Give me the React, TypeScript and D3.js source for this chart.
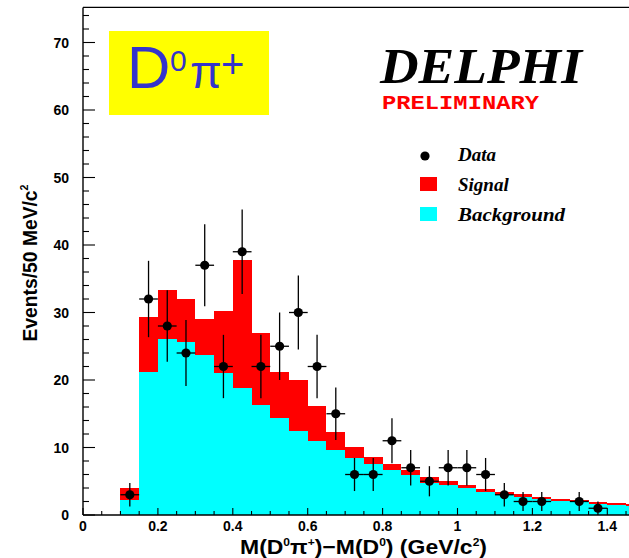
import React from "react";
import * as d3 from "d3";

// bin lower edges in GeV/c^2 (50 MeV bins)
const binStarts = [0.10, 0.15, 0.20, 0.25, 0.30, 0.35, 0.40, 0.45, 0.50, 0.55,
  0.60, 0.65, 0.70, 0.75, 0.80, 0.85, 0.90, 0.95, 1.00, 1.05,
  1.10, 1.15, 1.20, 1.25, 1.30, 1.35, 1.40, 1.45];
const background = [2.2, 21.2, 26.1, 25.7, 23.7, 21.1, 18.8, 16.3, 14.4, 12.5,
  11.0, 9.7, 8.5, 7.5, 6.6, 5.9, 4.8, 4.4, 3.95, 3.45,
  2.95, 2.7, 2.3, 2.1, 1.9, 1.7, 1.5, 1.35];
const signal = [1.8, 8.1, 7.3, 6.3, 5.4, 9.1, 19.0, 10.6, 6.8, 7.5,
  5.1, 2.6, 1.6, 1.1, 0.9, 0.7, 0.9, 0.7, 0.45, 0.45,
  0.4, 0.35, 0.4, 0.3, 0.3, 0.3, 0.3, 0.25];
const counts = [3, 32, 28, 24, 37, 22, 39, 22, 25, 30,
  22, 15, 6, 6, 11, 7, 5, 7, 7, 6,
  3, 2, 2, 0, 2, 1, 0, 0];
const binWidth = 0.05;

const xTickLabels = ["0", "0.2", "0.4", "0.6", "0.8", "1", "1.2", "1.4"];
const yTickLabels = ["0", "10", "20", "30", "40", "50", "60", "70"];

const W = 629, H = 558;

export default function App() {
  const x = d3.scaleLinear().domain([0, 1.5]).range([83, 644.75]);
  const y = d3.scaleLinear().domain([0, 75.2]).range([515, 7.4]);

  const table = binStarts.map((b, i) => ({ b, background: background[i], signal: signal[i] }));
  const stacked = d3.stack().keys(["background", "signal"])(table as any);
  const total = stacked[1];
  const bkg = stacked[0];

  const minorY = d3.range(0, 76, 2);
  const minorX = d3.range(0, 1.5001, 0.05);

  const sans = "'Liberation Sans', Arial, sans-serif";
  const serif = "'Liberation Serif', 'Times New Roman', serif";

  return (
    <svg width={W} height={H} style={{ position: "absolute", left: 0, top: 0, background: "#fff" }}>
      {/* stacked histogram: total (red) then background (cyan) on top */}
      <g shapeRendering="crispEdges">
        {total.map((d, i) => (
          <rect key={"s" + i} x={x(binStarts[i])} width={x(binStarts[i] + binWidth) - x(binStarts[i])}
            y={y(d[1])} height={y(0) - y(d[1])} fill="#ff0000" />
        ))}
        {bkg.map((d, i) => (
          <rect key={"b" + i} x={x(binStarts[i])} width={x(binStarts[i] + binWidth) - x(binStarts[i])}
            y={y(d[1])} height={y(0) - y(d[1])} fill="#00ffff" />
        ))}
      </g>

      {/* data points with poisson errors */}
      <g stroke="#000" strokeWidth={1.3}>
        {counts.map((n, i) => {
          if (n <= 0) return null;
          const cx = x(binStarts[i] + binWidth / 2);
          const e = Math.sqrt(n);
          return (
            <g key={"p" + i}>
              <line x1={cx} x2={cx} y1={y(n + e)} y2={y(n - e)} />
              <line x1={x(binStarts[i])} x2={x(binStarts[i] + binWidth)} y1={y(n)} y2={y(n)} />
              <circle cx={cx} cy={y(n)} r={4.6} fill="#000" stroke="none" />
            </g>
          );
        })}
      </g>

      {/* frame */}
      <g stroke="#000" strokeWidth={1.4} fill="none">
        <line x1={83} x2={83} y1={y.range()[1]} y2={515} />
        <line x1={83} x2={W} y1={515} y2={515} />
        <line x1={83} x2={W} y1={y.range()[1]} y2={y.range()[1]} />
      </g>
      <g stroke="#000" strokeWidth={1.1}>
        {minorY.map((v) => (
          <line key={"yt" + v} x1={83} x2={83 + (v % 10 === 0 ? 12 : 6)} y1={y(v)} y2={y(v)} />
        ))}
        {minorX.map((v, i) => (
          <line key={"xt" + i} x1={x(v)} x2={x(v)} y1={515} y2={515 - (i % 4 === 0 ? 7 : 4)} />
        ))}
      </g>

      {/* tick labels */}
      <g fontFamily={sans} fontWeight="bold" fontSize={14} fill="#000">
        {yTickLabels.map((t) => (
          <text key={"yl" + t} x={69} y={y(+t)} textAnchor="end" dominantBaseline="central">{t}</text>
        ))}
        {xTickLabels.map((t) => (
          <text key={"xl" + t} x={x(+t)} y={531} textAnchor="middle">{t}</text>
        ))}
      </g>

      {/* axis titles */}
      <text x={240} y={554} fontFamily={sans} fontWeight="bold" fontSize={21}
        textLength={247} lengthAdjust="spacingAndGlyphs">
        M(D<tspan fontSize={11} dy={-8}>0</tspan><tspan dy={8}>π</tspan>
        <tspan fontSize={11} dy={-8}>+</tspan><tspan dy={8}>)−M(D</tspan>
        <tspan fontSize={11} dy={-8}>0</tspan><tspan dy={8}>) (GeV/c</tspan>
        <tspan fontSize={11} dy={-8}>2</tspan><tspan dy={8}>)</tspan>
      </text>
      <text transform="translate(37,263) rotate(-90)" textAnchor="middle" fontFamily={sans}
        fontWeight="bold" fontSize={20} textLength={157} lengthAdjust="spacingAndGlyphs">
        Events/50 MeV/c<tspan fontSize={11} dy={-9}>2</tspan>
      </text>

      {/* channel label */}
      <rect x={109} y={31} width={160} height={84} fill="#ffff00" />
      <text y={88} fill="#3333cc" fontFamily={sans}>
        <tspan x={127} fontSize={60}>D</tspan>
        <tspan x={170} y={71} fontSize={30}>0</tspan>
        <tspan x={190} y={88} fontSize={46}>π</tspan>
        <tspan x={221} y={78} fontSize={40}>+</tspan>
      </text>

      {/* experiment label */}
      <text x={380} y={83} fontFamily={serif} fontStyle="italic" fontWeight="bold" fontSize={50}
        textLength={202} lengthAdjust="spacingAndGlyphs">DELPHI</text>
      <text x={382} y={109} fill="#ff0000" fontFamily="'Liberation Mono', 'Courier New', monospace"
        fontWeight="bold" fontSize={20} textLength={157} lengthAdjust="spacingAndGlyphs">PRELIMINARY</text>

      {/* legend */}
      <circle cx={425} cy={156} r={4.6} fill="#000" />
      <rect x={420} y={177} width={17} height={14} fill="#ff0000" />
      <rect x={420} y={207} width={17} height={14} fill="#00ffff" />
      <g fontFamily={serif} fontStyle="italic" fontWeight="bold" fontSize={19} fill="#000">
        <text x={458} y={161}>Data</text>
        <text x={458} y={191}>Signal</text>
        <text x={458} y={221} textLength={107} lengthAdjust="spacingAndGlyphs">Background</text>
      </g>
    </svg>
  );
}
